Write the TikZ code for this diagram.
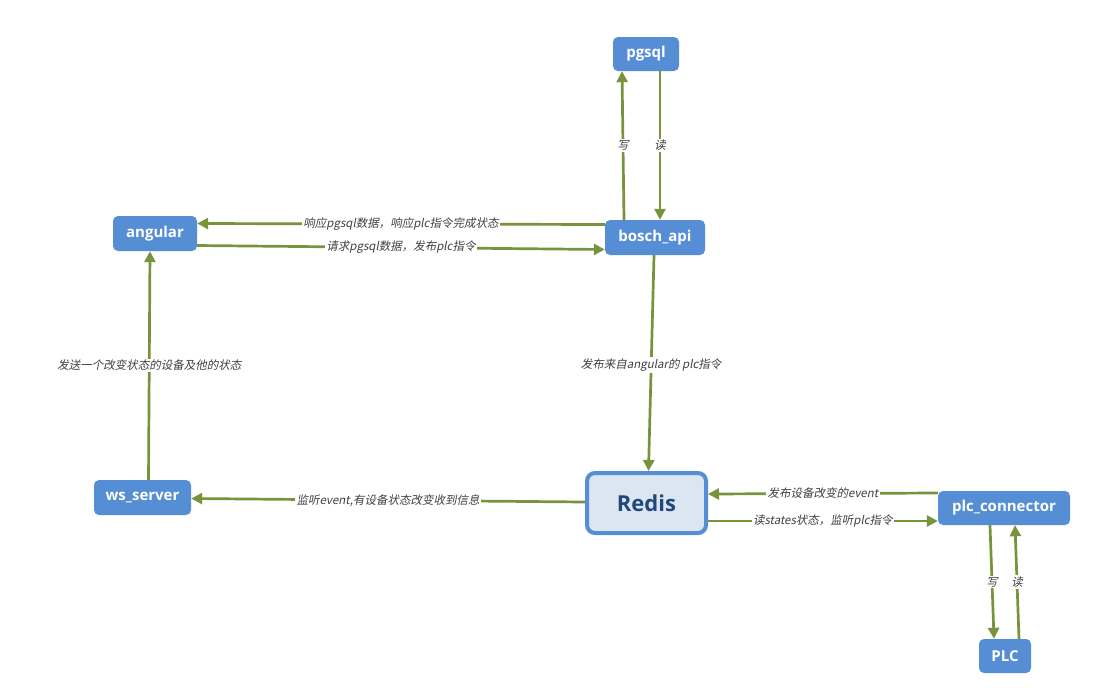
\documentclass[tikz,border=0pt]{standalone}
\usepackage{fontspec}
\usetikzlibrary{arrows.meta}
\newfontfamily\lblfont[FakeSlant=0.2]{Noto Sans CJK SC}
\newfontfamily\boxfont{Open Sans}
\definecolor{nodeblue}{HTML}{558ED5}
\definecolor{edgegreen}{HTML}{77933C}
\definecolor{lblgray}{HTML}{404040}
\definecolor{redisfill}{HTML}{DCE6F2}
\definecolor{redistext}{HTML}{1F497D}
\tikzset{
  box/.style={rectangle, rounded corners=5pt, fill=nodeblue, text=white,
    font=\boxfont\bfseries\fontsize{15}{17}\selectfont, inner sep=0pt},
  redisbox/.style={rectangle, rounded corners=8pt, fill=redisfill, draw=nodeblue,
    line width=4pt, text=redistext, font=\boxfont\bfseries\fontsize{22}{26}\selectfont, inner sep=0pt},
  link/.style={draw=edgegreen, line width=2.7pt, -{Triangle[length=11pt,width=11pt]}},
  lbl/.style={fill=white, inner sep=1.5pt, text=lblgray, font=\lblfont\fontsize{11.5}{13}\selectfont}
}
\begin{document}
\begin{tikzpicture}[x=1pt,y=-1pt]
\useasboundingbox[fill=white] (0,0) rectangle (1097,689);
\node[box, minimum width=66pt, minimum height=34pt] (pgsql) at (646,54) {pgsql};
\node[box, minimum width=84pt, minimum height=35pt] (angular) at (155,233.5) {angular};
\node[box, minimum width=100pt, minimum height=35pt] (bosch) at (655,237.5) {bosch\_api};
\node[box, minimum width=97pt, minimum height=35pt] (ws) at (142.5,497.5) {ws\_server};
\node[redisbox, minimum width=119pt, minimum height=60pt] (redis) at (646.5,503) {Redis};
\node[box, minimum width=132pt, minimum height=34pt] (plcc) at (1004,508) {plc\_connector};
\node[box, minimum width=52pt, minimum height=34pt] (plc) at (1005,656) {PLC};

\draw[link] ([xshift=-31pt]bosch.north) -- node[lbl]{写} ([xshift=-24pt]pgsql.south);
\draw[link] ([xshift=14pt]pgsql.south) -- node[lbl]{读} ([xshift=5pt]bosch.north);
\draw[link] ([yshift=13pt]bosch.west) -- node[lbl]{响应pgsql数据，响应plc指令完成状态} ([yshift=10pt]angular.east);
\draw[link] ([yshift=-12pt]angular.east) -- node[lbl]{请求pgsql数据，发布plc指令} ([yshift=-12pt]bosch.west);
\draw[link] ([xshift=-1pt]bosch.south) -- node[lbl, pos=0.51]{发布来自angular的 plc指令} ([xshift=2pt]redis.north);
\draw[link] ([yshift=1pt]redis.west) -- node[lbl]{监听event,有设备状态改变收到信息} ([yshift=-1pt]ws.east);
\draw[link] ([xshift=6pt]ws.north) -- node[lbl]{发送一个改变状态的设备及他的状态} ([xshift=-5pt]angular.south);
\draw[link] ([yshift=15pt]plcc.west) -- node[lbl]{发布设备改变的event} ([yshift=9pt]redis.east);
\draw[link] ([yshift=-18pt]redis.east) -- node[lbl]{读states状态，监听plc指令} ([yshift=-13pt]plcc.west);
\draw[link] ([xshift=-14pt]plcc.south) -- node[lbl]{写} ([xshift=-11pt]plc.north);
\draw[link] ([xshift=14pt]plc.north) -- node[lbl]{读} ([xshift=11pt]plcc.south);
\end{tikzpicture}
\end{document}
